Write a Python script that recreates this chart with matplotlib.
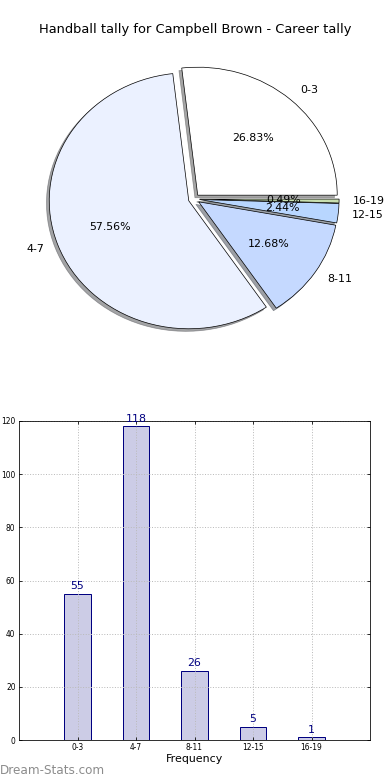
import matplotlib
matplotlib.use("Agg")
import matplotlib.pyplot as plt

categories = ["0-3", "4-7", "8-11", "12-15", "16-19"]
counts = [55, 118, 26, 5, 1]
pie_colors = ["#ffffff", "#ebf1ff", "#c5d9ff", "#b8d6ff", "#c8dfb0"]
title = "Handball tally for Campbell Brown - Career tally"

fig = plt.figure(figsize=(390 / 72, 780 / 72), dpi=72)
fig.text(0.5, 1 - 30 / 780, title, ha="center", va="center", fontsize=13)

# pie (old-style stretched, not equal aspect)
ax1 = fig.add_axes([0, (780 - 355) / 780, 1, 300 / 780])
wedges, texts, autotexts = ax1.pie(
    counts, labels=categories, colors=pie_colors, explode=[0.04] * 5,
    autopct="%.2f%%", shadow=True, startangle=0,
    wedgeprops=dict(edgecolor="black", linewidth=0.7),
    textprops=dict(fontsize=11))
ax1.set_aspect("auto")
ax1.set_xlim(-194 / 139.5, 196 / 139.5)
ax1.set_ylim(-(355 - 199) / 128, (199 - 55) / 128)
ax1.axis("off")

# bar chart
ax2 = fig.add_axes([19 / 390, 40 / 780, 351 / 390, 319 / 780])
x = range(len(categories))
bars = ax2.bar(x, counts, width=0.45, color="#cccce6", edgecolor="#000080", linewidth=1)
for xi, c in zip(x, counts):
    ax2.text(xi, c + 1, str(c), ha="center", va="bottom", color="#000080", fontsize=11)
ax2.set_xlim(-1, 5)
ax2.set_ylim(0, 120)
ax2.set_yticks(range(0, 121, 20))
ax2.set_xticks(list(x))
ax2.set_xticklabels(categories)
ax2.tick_params(labelsize=7.5, direction="in", top=True, right=True, length=3)
ax2.grid(True, linestyle=":", color="#bbbbbb", linewidth=1)
ax2.set_xlabel("Frequency", fontsize=11, labelpad=2)

fig.text(0.0, 1 - 770 / 780, "Dream-Stats.com", ha="left", va="center",
         fontsize=12, color="#8c8c8c")

fig.savefig("out.png", dpi=72)
